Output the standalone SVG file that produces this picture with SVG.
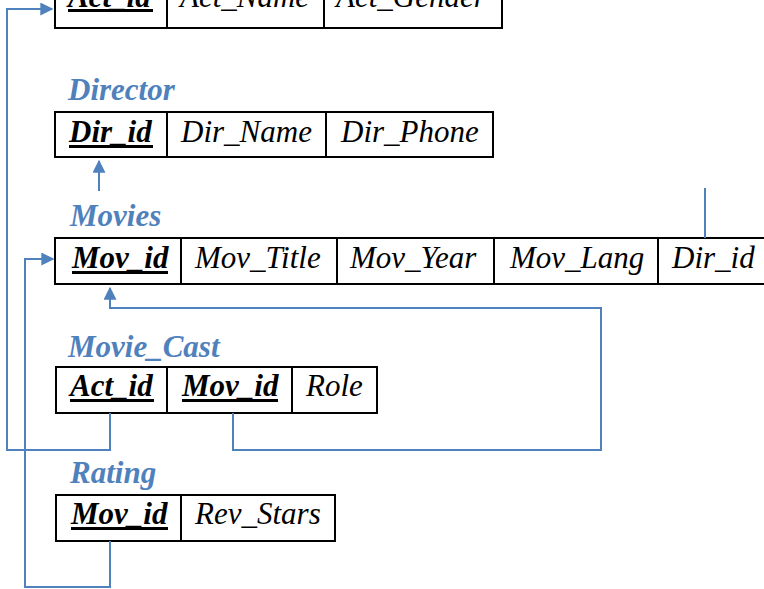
<svg xmlns="http://www.w3.org/2000/svg" width="764" height="589" viewBox="0 0 764 589">
<defs>
<style>
.cell{fill:none;stroke:#000;stroke-width:2}
.t{font-family:"Liberation Serif","Times New Roman",serif;font-style:italic;font-size:31px;fill:#000}
.k{font-weight:bold}
.ul{fill:#000}
.h{font-family:"Liberation Serif","Times New Roman",serif;font-style:italic;font-weight:bold;font-size:31px;fill:#4F81BD}
.c{fill:none;stroke:#4F81BD;stroke-width:2}
</style>
<marker id="ah" viewBox="0 0 10 10" refX="9" refY="5" markerWidth="6.5" markerHeight="6.5" markerUnits="strokeWidth" orient="auto">
<path d="M0,0 L10,5 L0,10 Z" fill="#4F81BD"/>
</marker>
</defs>
<rect width="764" height="589" fill="#fff"/>

<g id="actor">
<rect class="cell" x="55" y="-20" width="447" height="48"/>
<line class="cell" x1="167" y1="-20" x2="167" y2="28"/>
<line class="cell" x1="324" y1="-20" x2="324" y2="28"/>
<text class="t k" x="68" y="7">Act_id</text>
<rect class="ul" x="68" y="9" width="85" height="3"/>
<text class="t" x="180" y="7">Act_Name</text>
<text class="t" x="336" y="7">Act_Gender</text>
</g>

<g id="director">
<text class="h" x="68" y="100">Director</text>
<rect class="cell" x="55" y="112" width="438" height="45"/>
<line class="cell" x1="167" y1="112" x2="167" y2="157"/>
<line class="cell" x1="326" y1="112" x2="326" y2="157"/>
<text class="t k" x="69" y="142">Dir_id</text>
<rect class="ul" x="69" y="145" width="84" height="3"/>
<text class="t" x="181" y="142">Dir_Name</text>
<text class="t" x="341" y="142">Dir_Phone</text>
</g>

<g id="movies">
<text class="h" x="70" y="226">Movies</text>
<rect class="cell" x="55" y="238" width="712" height="46"/>
<line class="cell" x1="181" y1="238" x2="181" y2="284"/>
<line class="cell" x1="337" y1="238" x2="337" y2="284"/>
<line class="cell" x1="494" y1="238" x2="494" y2="284"/>
<line class="cell" x1="658" y1="238" x2="658" y2="284"/>
<text class="t k" x="72" y="268">Mov_id</text>
<rect class="ul" x="72" y="271" width="96" height="3"/>
<text class="t" x="195" y="268">Mov_Title</text>
<text class="t" x="350" y="268">Mov_Year</text>
<text class="t" x="510" y="268">Mov_Lang</text>
<text class="t" x="672" y="268">Dir_id</text>
</g>

<g id="movie_cast">
<text class="h" x="68" y="357">Movie_Cast</text>
<rect class="cell" x="56" y="367" width="321" height="46"/>
<line class="cell" x1="167" y1="367" x2="167" y2="413"/>
<line class="cell" x1="292" y1="367" x2="292" y2="413"/>
<text class="t k" x="70" y="396">Act_id</text>
<rect class="ul" x="70" y="399" width="84" height="3"/>
<text class="t k" x="182" y="396">Mov_id</text>
<rect class="ul" x="182" y="399" width="96" height="3"/>
<text class="t" x="306" y="396">Role</text>
</g>

<g id="rating">
<text class="h" x="70" y="483">Rating</text>
<rect class="cell" x="56" y="495" width="279" height="46"/>
<line class="cell" x1="181" y1="495" x2="181" y2="541"/>
<text class="t k" x="71" y="524">Mov_id</text>
<rect class="ul" x="71" y="527" width="97" height="3"/>
<text class="t" x="195" y="524">Rev_Stars</text>
</g>

<g id="connectors">
<polyline class="c" points="110,413 110,450 7,450 7,9 52,9" marker-end="url(#ah)"/>
<line class="c" x1="705" y1="188" x2="705" y2="238"/>
<line class="c" x1="99" y1="191" x2="99" y2="161" marker-end="url(#ah)"/>
<polyline class="c" points="233,413 233,450 601,450 601,308 110,308 110,288" marker-end="url(#ah)"/>
<polyline class="c" points="110,541 110,587 25,587 25,259 53,259" marker-end="url(#ah)"/>
</g>
</svg>
